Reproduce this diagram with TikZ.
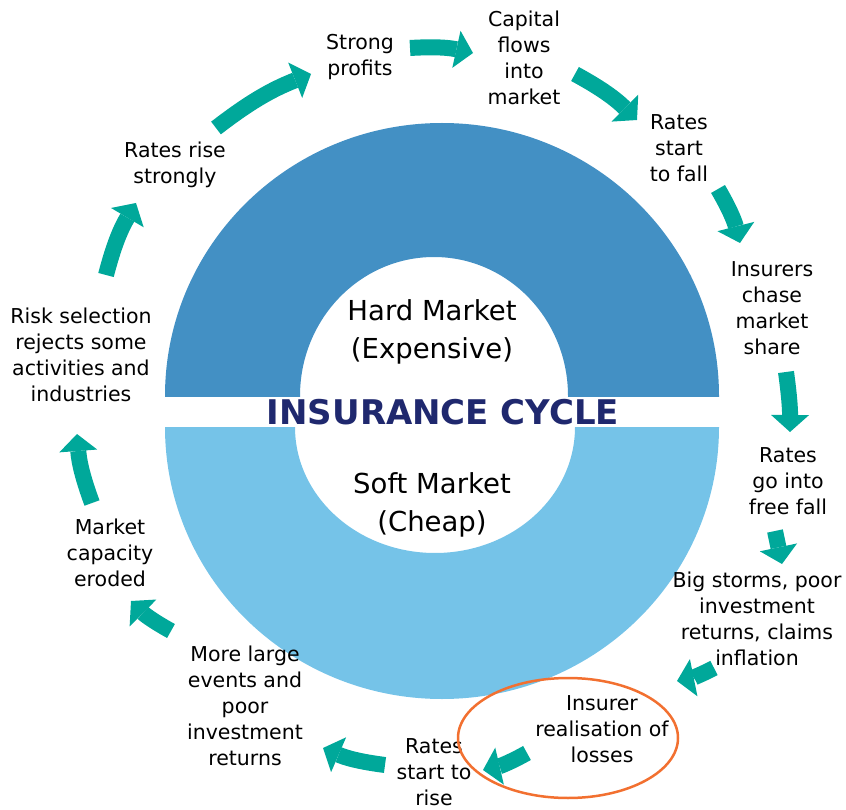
\documentclass[tikz,border=0pt]{standalone}
\usepackage{fontspec}
\setmainfont{DejaVu Sans}
\usetikzlibrary{arrows.meta}
\definecolor{hardblue}{RGB}{67,144,196}
\definecolor{softblue}{RGB}{117,195,232}
\definecolor{flowteal}{RGB}{0,168,154}
\definecolor{cyclenavy}{RGB}{31,40,110}
\definecolor{lossorange}{RGB}{242,112,48}

\begin{document}
\begin{tikzpicture}[x=1pt, y=-1pt,
    lbl/.style={align=center, inner sep=0pt, font=\fontsize{20.5}{26}\selectfont},
    mkt/.style={align=center, inner sep=0pt, font=\fontsize{27.5}{38}\selectfont},
    flow/.style={flowteal, line width=16pt, -{Triangle[width=38pt,length=17pt,line width=0pt]}}]
\useasboundingbox (0,0) rectangle (846,810);

% the two halves of the ring
\begin{scope}
  \clip (0,0) rectangle (846,396);
  \fill[hardblue, even odd rule] (442,396) ellipse [x radius=277, y radius=273]
                                 (434,396) ellipse [x radius=134, y radius=139];
\end{scope}
\begin{scope}
  \clip (0,427) rectangle (846,810);
  \fill[softblue, even odd rule] (442,427) ellipse [x radius=277, y radius=272]
                                 (435,427) ellipse [x radius=140, y radius=126];
\end{scope}

\node[mkt] (hard) at (432,332) {Hard Market\\(Expensive)};
\node[mkt] (soft) at (432,505) {Soft Market\\(Cheap)};
\node[font=\fontsize{34}{40}\selectfont\bfseries, text=cyclenavy, inner sep=0pt] (title) at (443,412) {INSURANCE CYCLE};

% stages
\node[lbl] (profits) at (360,57)  {Strong\\profits};
\node[lbl] (capital) at (524,58)  {Capital\\flows\\into\\market};
\node[lbl] (fall)    at (679,148) {Rates\\start\\to fall};
\node[lbl] (chase)   at (772,308) {Insurers\\chase\\market\\share};
\node[lbl] (freefall) at (788,481) {Rates\\go into\\free fall};
\node[lbl] (storms)  at (757,619) {Big storms, poor\\investment\\returns, claims\\inflation};
\node[lbl] (losses)  at (602,729) {Insurer\\realisation of\\losses};
\node[lbl] (rise)    at (434,772) {Rates\\start to\\rise};
\node[lbl] (events)  at (245,706) {More large\\events and\\poor\\investment\\returns};
\node[lbl] (eroded)  at (110,553) {Market\\capacity\\eroded};
\node[lbl] (select)  at (81,355)  {Risk selection\\rejects some\\activities and\\industries};
\node[lbl] (strongly) at (175,165) {Rates rise\\strongly};

\draw[lossorange, line width=2.5pt] (568,738) ellipse [x radius=110, y radius=60];

% arrow ends
\coordinate (s1) at (216,128);  \coordinate (e1) at (311,74);
\coordinate (s2) at (410,48);   \coordinate (e2) at (473,53);
\coordinate (s3) at (575,74);   \coordinate (e3) at (637,120);
\coordinate (s4) at (718,189);  \coordinate (e4) at (740,243);
\coordinate (s5) at (786,372);  \coordinate (e5) at (790,432);
\coordinate (s6) at (775,531);  \coordinate (e6) at (782,564);
\coordinate (s7) at (714,668);  \coordinate (e7) at (677,681);
\coordinate (s8) at (527,753);  \coordinate (e8) at (483,770);
\coordinate (s9) at (385,765);  \coordinate (e9) at (323,748);
\coordinate (s10) at (171,631); \coordinate (e10) at (131,601);
\coordinate (s11) at (92,503);  \coordinate (e11) at (77,434);
\coordinate (s12) at (106,275); \coordinate (e12) at (136,203);

\path[flow]
    (s1) edge[bend left=8] (e1)
    (s2) edge[bend left=8] (e2)
    (s3) edge[bend left=8] (e3)
    (s4) edge[bend left=8] (e4)
    (s5) edge[bend left=4] (e5)
    (s6) edge (e6)
    (s7) edge[bend left=8] (e7)
    (s8) edge[bend left=8] (e8)
    (s9) edge[bend left=8] (e9)
    (s10) edge[bend left=8] (e10)
    (s11) edge[bend left=8] (e11)
    (s12) edge[bend left=8] (e12)
;
\end{tikzpicture}
\end{document}
